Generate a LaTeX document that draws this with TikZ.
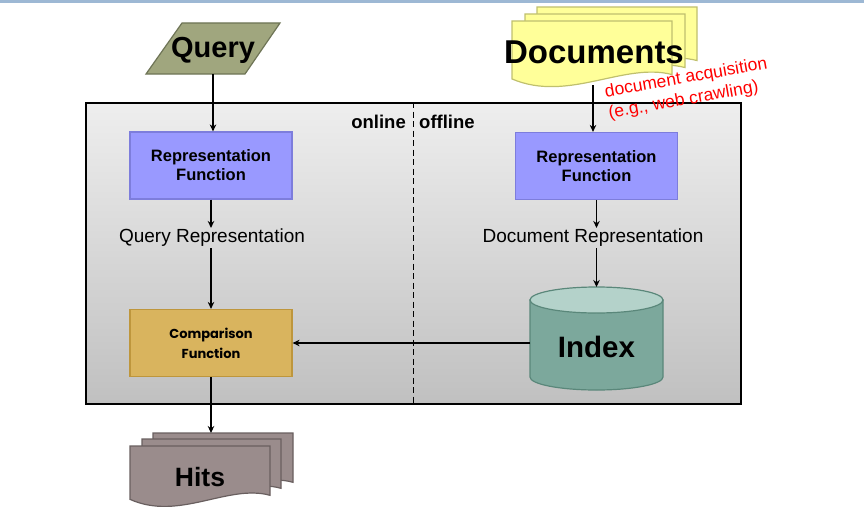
\documentclass[tikz,border=0pt]{standalone}
\usepackage{fontspec}
\setmainfont{Liberation Sans}
\newfontfamily\cmpfont{Poppins}
\usetikzlibrary{arrows.meta}

\definecolor{topbar}{RGB}{157,184,212}
\definecolor{qfill}{RGB}{160,166,126}
\definecolor{qdraw}{RGB}{110,116,86}
\definecolor{docfill}{RGB}{255,255,153}
\definecolor{docdraw}{RGB}{192,192,110}
\definecolor{repfill}{RGB}{153,153,255}
\definecolor{repdraw}{RGB}{125,125,220}
\definecolor{cmpfill}{RGB}{217,180,94}
\definecolor{cmpdraw}{RGB}{190,150,60}
\definecolor{idxbody}{RGB}{124,168,156}
\definecolor{idxtop}{RGB}{180,210,202}
\definecolor{idxdraw}{RGB}{90,135,122}
\definecolor{hitfill}{RGB}{154,140,140}
\definecolor{hitdraw}{RGB}{105,95,95}
\definecolor{boxtop}{RGB}{238,238,238}
\definecolor{boxbot}{RGB}{192,192,192}

% document page with wavy bottom: x0 y0 w h style
\newcommand\docpage[5]{%
  \path[#5] (#1,#2) -- ({#1+#3},#2) -- ({#1+#3},{#2+0.85*#4})
    .. controls ({#1+0.7*#3},{#2+0.65*#4}) and ({#1+0.35*#3},{#2+1.3*#4}) ..
    (#1,{#2+0.92*#4}) -- cycle;}

\tikzset{
  arr/.style={-{Stealth[length=7pt,width=6.5pt]}, line width=1.6pt},
  repbox/.style={draw=repdraw, line width=1.2pt, fill=repfill, minimum width=162pt,
    minimum height=67pt, align=center, font=\fontsize{16.5}{19}\selectfont\bfseries},
  cmpbox/.style={draw=cmpdraw, line width=1.2pt, fill=cmpfill, minimum width=162pt,
    minimum height=67pt, align=center, font=\fontsize{13}{20}\selectfont\cmpfont\bfseries},
  plain/.style={inner sep=1pt, font=\fontsize{19}{19}\selectfont},
  docstyle/.style={fill=docfill, draw=docdraw, line width=1.2pt},
  hitstyle/.style={fill=hitfill, draw=hitdraw, line width=1.2pt},
}

\begin{document}
\begin{tikzpicture}[x=1pt, y=-1pt]
\useasboundingbox (0,0) rectangle (864,511);
\fill[topbar] (0,0) rectangle (864,3.5);

% Query parallelogram
\filldraw[fill=qfill, draw=qdraw, line width=1.2pt] (182,23) -- (280,23) -- (245,74) -- (146,74) -- cycle;
\node[inner sep=0, font=\fontsize{29}{29}\selectfont\bfseries] (query) at (213,50) {Query};
\coordinate (qbot) at (213,74);

% Documents stack
\docpage{537}{7}{160}{63}{docstyle}
\docpage{525}{14}{160}{63}{docstyle}
\docpage{512}{21}{160}{63}{docstyle}
\node[inner sep=0, font=\fontsize{33}{33}\selectfont\bfseries] (docs) at (594,52) {Documents};
\coordinate (dbot) at (593,85);

% big frame
\node[draw, line width=2pt, top color=boxtop, bottom color=boxbot,
  minimum width=655pt, minimum height=301pt, inner sep=0] (frame) at (413.5,253.5) {};
\draw[line width=1.2pt, dash pattern=on 6pt off 3.5pt] (frame.north) -- (frame.south);
\node[anchor=east, inner sep=0, font=\fontsize{18.5}{18.5}\selectfont\bfseries] (online) at (406,122) {online};
\node[anchor=west, inner sep=0, font=\fontsize{18.5}{18.5}\selectfont\bfseries] (offline) at (419,122) {offline};

% left column
\node[repbox] (lrep) at (211,165.5) {Representation\\Function};
\node[plain] (qrep) at (212,238) {Query Representation};
\node[cmpbox] (cmp) at (211,343) {Comparison\\Function};

% right column
\node[repbox] (rrep) at (596.5,166) {Representation\\Function};
\node[plain] (drep) at (593,238) {Document Representation};

% Index cylinder
\node[minimum width=133pt, minimum height=103pt, inner sep=0, outer sep=0] (idx) at (596.5,338.5) {};
\filldraw[fill=idxbody, draw=idxdraw, line width=1.2pt] (530,300) -- (530,377)
  .. controls (530,384.18) and (559.77,390) .. (596.5,390)
  .. controls (633.23,390) and (663,384.18) .. (663,377) -- (663,300) -- cycle;
\filldraw[fill=idxtop, draw=idxdraw, line width=1.2pt] (596.5,300) ellipse [x radius=66.5, y radius=13];
\node[font=\fontsize{29.5}{29.5}\selectfont\bfseries] (idxlabel) at (596.5,347) {Index};

% Hits stack
\docpage{153}{433}{140}{58}{hitstyle}
\docpage{142}{439}{139}{58}{hitstyle}
\docpage{130}{446}{140}{58}{hitstyle}
\node[font=\fontsize{26.5}{26.5}\selectfont\bfseries] (hits) at (200,477) {Hits};
\coordinate (hitstop) at (211,433);

% red annotation
\node[rotate=10, align=left, text=red, inner sep=0, font=\fontsize{17.5}{21.5}\selectfont] (acq) at (688,89)
  {document acquisition\\(e.g., web crawling)};

% connectors
\draw[arr] (qbot) -- (qbot |- lrep.north);
\draw[arr] (lrep.south) -- (lrep.south |- qrep.north);
\draw[arr] (qrep.south -| cmp.north) -- (cmp.north);
\draw[arr] (cmp.south) -- (hitstop);
\draw[arr] (dbot) -- (dbot |- rrep.north);
\draw[arr] (rrep.south) -- (rrep.south |- drep.north);
\draw[arr] (drep.south -| idx.north) -- (idx.north);
\draw[arr] (idx.west |- cmp.east) -- (cmp.east);
\end{tikzpicture}
\end{document}
